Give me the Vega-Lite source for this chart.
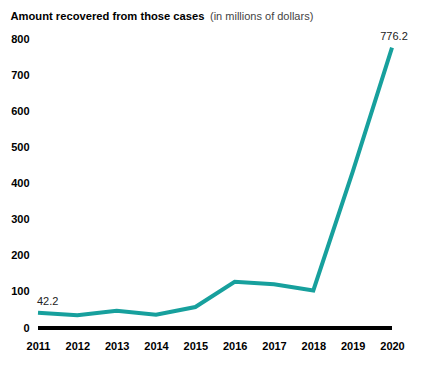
{
  "$schema": "https://vega.github.io/schema/vega-lite/v6.json",
  "width": 354,
  "height": 289,
  "autosize": "none",
  "padding": {"left": 38, "top": 39, "right": 50, "bottom": 39},
  "background": "white",
  "config": {"view": {"stroke": null}, "font": "Liberation Sans"},
  "title": {
    "text": "(in millions of dollars)",
    "anchor": "start",
    "frame": "group",
    "dx": 172,
    "offset": -12,
    "fontSize": 11,
    "fontWeight": "normal",
    "color": "#444444",
    "font": "Liberation Sans"
  },
  "data": {
    "values": [
      {"year": "2011", "amount": 42.2, "label": "42.2"},
      {"year": "2012", "amount": 35},
      {"year": "2013", "amount": 48},
      {"year": "2014", "amount": 37},
      {"year": "2015", "amount": 58},
      {"year": "2016", "amount": 128},
      {"year": "2017", "amount": 121},
      {"year": "2018", "amount": 104},
      {"year": "2019", "amount": 432},
      {"year": "2020", "amount": 776.2, "label": "776.2"}
    ]
  },
  "encoding": {
    "x": {
      "field": "year",
      "type": "ordinal",
      "scale": {"type": "point", "padding": 0},
      "axis": {
        "title": null,
        "labelAngle": 0,
        "domain": false,
        "ticks": false,
        "labelPadding": 12,
        "labelFontSize": 11,
        "labelFontWeight": "bold",
        "labelColor": "#000000",
        "labelFont": "Liberation Sans"
      }
    },
    "y": {
      "field": "amount",
      "type": "quantitative",
      "scale": {"domain": [0, 800]},
      "axis": {
        "title": "Amount recovered from those cases",
        "titleAngle": 0,
        "titleAlign": "left",
        "titleBaseline": "alphabetic",
        "titleX": -28,
        "titleY": -20,
        "titleFontSize": 11.2,
        "titleFontWeight": "bold",
        "titleColor": "#000000",
        "titleFont": "Liberation Sans",
        "values": [0, 100, 200, 300, 400, 500, 600, 700, 800],
        "labelOverlap": false,
        "grid": false,
        "domain": false,
        "ticks": false,
        "labelPadding": 9,
        "labelFontSize": 11,
        "labelFontWeight": "bold",
        "labelColor": "#000000",
        "labelFont": "Liberation Sans"
      }
    }
  },
  "layer": [
    {
      "mark": {"type": "rule", "color": "#000000", "strokeWidth": 3.5},
      "encoding": {"x": {"value": 0}, "x2": {"value": 354}, "y": {"datum": 0}}
    },
    {
      "mark": {"type": "line", "color": "#17a09d", "strokeWidth": 4, "strokeJoin": "miter"}
    },
    {
      "transform": [{"filter": "datum.year == '2011'"}],
      "mark": {"type": "text", "align": "left", "baseline": "bottom", "dx": -1, "dy": -6, "fontSize": 11, "color": "#222222"},
      "encoding": {"text": {"field": "label"}}
    },
    {
      "transform": [{"filter": "datum.year == '2020'"}],
      "mark": {"type": "text", "align": "center", "baseline": "bottom", "dx": 2, "dy": -6, "fontSize": 11, "color": "#222222"},
      "encoding": {"text": {"field": "label"}}
    }
  ]
}
